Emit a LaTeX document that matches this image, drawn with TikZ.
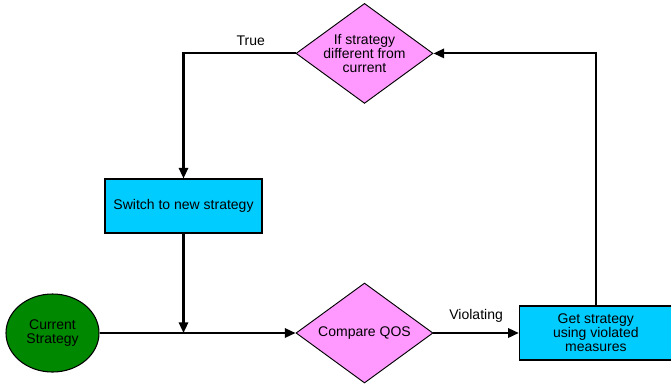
\documentclass[tikz,border=0pt]{standalone}
\usepackage{fontspec}
\setmainfont{Liberation Sans}
\usepackage{xcolor}
\usepackage{tikz}
\usetikzlibrary{shapes.geometric, arrows.meta, positioning}

\definecolor{decpink}{RGB}{255,153,255}
\definecolor{proccyan}{RGB}{0,204,255}
\definecolor{termgreen}{RGB}{0,136,0}

\begin{document}
\begin{tikzpicture}[
    x=0.75pt, y=-0.75pt,
    font=\fontsize{10.5}{10.6}\selectfont,
    node distance=5mm and 7mm,
    term/.style={ellipse, draw, line width=0.8pt, fill=termgreen,
                 minimum width=69.75pt, minimum height=58.5pt,
                 inner sep=0pt, align=center},
    dec/.style={diamond, draw, line width=0.7pt, fill=decpink,
                minimum width=102.75pt, minimum height=75pt,
                shape aspect=1.37, inner sep=0pt, align=center},
    proc/.style={rectangle, draw, line width=0.8pt, fill=proccyan,
                 minimum width=114.75pt, minimum height=40.5pt, align=center},
    arr/.style={-{Triangle[length=8pt,width=7pt]}, line width=1.6pt}
]
\useasboundingbox (0,0) rectangle (671,387);
\node[term] (cur) at (52.5,333) {Current\\Strategy};
\node[dec, right=147pt of cur] (cmp) {Compare QOS};
\node[proc, right=64pt of cmp] (get) {Get strategy\\using violated\\measures};
\node[dec, above=134pt of cmp] (ifd) {If strategy\\different from\\current};
\node[proc, minimum width=117.75pt] (sw) at (183.5,206) {Switch to new strategy};
\coordinate (jn) at (sw |- cur);

\draw[arr] (cur.east)--(cmp.west);
\draw[arr] (cmp.east)-- node[above=4pt] {Violating} (get.west);
\draw[arr] (get.north) |- (ifd.east);
\draw[arr] (ifd.west) -| node[pos=0.2, above=2pt] {True} (sw.north);
\draw[arr] (sw.south)--(jn);
\end{tikzpicture}
\end{document}
